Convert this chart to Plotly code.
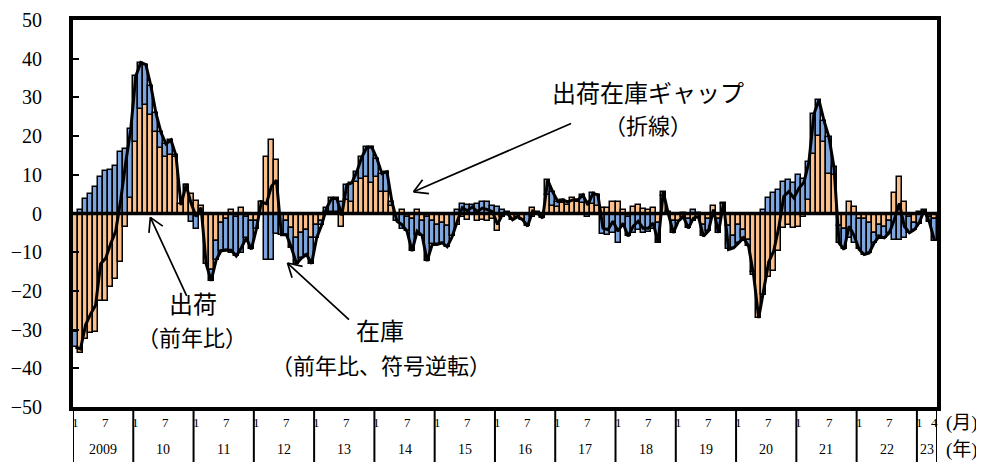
import math
import plotly.graph_objects as go

# ---- data (monthly, Jan 2009 - Apr 2023), % year-on-year ----
months_per_year = [12] * 14 + [4]
year_labels = ["2009", "10", "11", "12", "13", "14", "15", "16", "17", "18", "19", "20", "21", "22", "23"]

# 出荷 (shipments, yoy %)
shipments = [
    -30.5, -36, -32.5, -31, -30.5, -22.5, -22.5, -19, -17, -12.5, -3.5, 4,      # 2009
    18.5, 27, 28, 25.5, 21, 17, 14.5, 15, 14.5, 2.5, 7.4, 5,                 # 2010
    3.2, 2, -13, -14.5, -7, -2.5, -1.5, 0.8, -1, 1.3, -1, -2,                 # 2011
    -2, 3, 14.5, 19, 13.8, -0.3, -2, -3.8, -6.3, -5, -4.2, -6.3,               # 2012
    -3, -2, 0.3, 0.5, 0.5, -3.6, 3.5, 3, 8.2, 9, 9.5, 7.8,                    # 2013
    9.5, 5.6, 5.6, 2, -0.5, 1, -0.8, -1.5, 1, -2, -1, -2,                     # 2014
    -2.9, -2.5, -3.3, -0.5, -3, -1, -1.6, -0.5, -2, -1.6, -2, -1.5,           # 2015
    -4.6, -1, -0.5, -1.6, -0.8, -1.6, -0.5, 1.4, 0.5, -1.2, 4.8, 2,           # 2016
    1.8, 2.6, 2.2, 3.9, 3.1, 2.6, 3, 2.5, 2, 1.4, 1.4, 3,                     # 2017
    3, 1, -1, 1.8, 2.2, 1.2, 1, 1.5, -2.5, 4.5, 0.5, -2,                      # 2018
    -2, -1, -1.5, -2, -1, -3, -1.5, 2, -1.5, 2.5, -3.3, -5.9,                 # 2019
    -2.9, -4.2, -6.8, -15, -27, -21, -16.5, -14.9, -9.7, -3.8, -2.9, -3.8,    # 2020
    -3.4, -1, 3.5, 15.5, 19.9, 18.5, 10.3, 9.9, -3.3, -4, 3.1, 1.8,           # 2021
    -1.5, -1.5, -2.5, -5, -3, -3.5, -2, 5.2, 9.5, 3.1, -1, -2.5,              # 2022
    0.4, 0.5, -1, -1.5,                                                       # 2023
]

# 在庫 (inventory, yoy %) -- plotted with reversed sign
inventory = [
    4, -1, -3.7, -5, -6.8, -9.5, -10.9, -11.2, -12.4, -16, -16.7, -17.8,      # 2009
    -17, -12, -10.5, -7.5, -5, -4, -3.5, -4, -0.5, 0.3, 0, 2.3,               # 2010
    4, 0.5, 0, 2.9, 5, 7.1, 8, 10.3, 10, 10.2, 5.3, 7.3,                      # 2011
    2, 0, 12, 12, 5.2, 5.2, 3.5, 5.1, 6.7, 6.5, 6.4, 6.7,                     # 2012
    3.3, 1, -1.2, -3.4, -3.4, -3.1, -3.9, -4.9, -2.6, -5.6, -7.6, -9.3,       # 2013
    -4.7, -4.7, -5.2, -1, 1.5, 3.9, 3.8, 8.2, 5.6, 3.7, 11.3, 6,              # 2014
    5.1, 5.1, 5.3, 5.4, -1, -2.5, -2.3, -2.2, -2.5, -3, -3, -2,               # 2015
    -1.8, -0.8, -0.5, 0, 0, 0, 2.8, 0.8, 0.5, 0, -3.8, -3.6,                  # 2016
    -1.3, -0.9, -0.8, 0.4, -0.4, -2.2, 0.8, -2.7, -2.8, 5.2, 5.6, 5,          # 2017
    7.6, 3.5, 4.9, 5.1, 4.2, 5, 4.8, 4, 5, -1.1, 0.5, 3,                      # 2018
    0, -0.2, 2.3, -0.8, -0.2, 2.9, 3, 1, 3.5, -0.3, 6, 3,                     # 2019
    4.7, 2.1, 1.7, 1, 0, -1, -4, -5.2, -6.1, -8.2, -8.6, -7.8,                # 2020
    -9.9, -9, -9.8, -10.2, -9.4, -5.5, -9.4, -2, 4.3, 5.3, 6.4, 7.5,          # 2021
    7.8, 9.1, 7.7, 2.6, 2.9, 2.8, 3, 6.8, 6.9, 6.4, 4, 1.7,                   # 2022
    2.7, -0.5, 1.3, 5.5,                                                      # 2023
]

y_ticks = [-50, -40, -30, -20, -10, 0, 10, 20, 30, 40, 50]

# ---- derived ----
n = len(shipments)
x = list(range(n))
inventory_rev = [-v for v in inventory]
gap = [s - v for s, v in zip(shipments, inventory)]

ORANGE = "#F9BF8D"
BLUE = "#7EA5DD"
SERIF = "Liberation Serif, Noto Sans CJK JP, serif"

# page body has an 8px margin: figure is 976x456, plot area at 73..937 x ~20..407 on screen
W, H = 976, 456
ML, MT, MR, MB = 65, 12, 47, 57
PW = W - ML - MR
PH = H - MT - MB


def px(p):   # screen pixel x -> paper x
    return (p - 8 - ML) / PW


def py(p):   # screen pixel y -> paper y
    return (H - MB + 8 - p) / PH


fig = go.Figure()
fig.add_trace(go.Bar(x=x, y=shipments, name="出荷",
                     marker=dict(color=ORANGE, line=dict(color="black", width=1.5))))
fig.add_trace(go.Bar(x=x, y=inventory_rev, name="在庫",
                     marker=dict(color=BLUE, line=dict(color="black", width=1.5))))
fig.add_trace(go.Scatter(x=x, y=gap, mode="lines", name="ギャップ",
                         line=dict(color="black", width=3)))

shapes = []
shapes.append(dict(type="line", xref="paper", yref="y", x0=0, x1=1, y0=0, y1=0,
                   line=dict(color="black", width=3.5), layer="above"))

annotations = []
sep_y = py(462)
start = 0
for yl, m in zip(year_labels, months_per_year):
    shapes.append(dict(type="line", xref="x", yref="paper", x0=start - 0.5, x1=start - 0.5,
                       y0=0, y1=sep_y, line=dict(color="black", width=2)))
    month_marks = [1, 7] if m == 12 else [1, 4]
    for mm in month_marks:
        annotations.append(dict(x=start + mm - 1, y=py(423), xref="x", yref="paper", text=str(mm),
                                showarrow=False, font=dict(family=SERIF, size=13, color="black"),
                                xanchor="center", yanchor="middle"))
    annotations.append(dict(x=start + (m - 1) / 2, y=py(449), xref="x", yref="paper", text=yl,
                            showarrow=False, font=dict(family=SERIF, size=14, color="black"),
                            xanchor="center", yanchor="middle"))
    start += m
shapes.append(dict(type="line", xref="x", yref="paper", x0=start - 0.5, x1=start - 0.5,
                   y0=0, y1=sep_y, line=dict(color="black", width=2)))

annotations.append(dict(x=px(962), y=py(423), xref="paper", yref="paper", text="(月)", showarrow=False,
                        font=dict(family=SERIF, size=19, color="black"), xanchor="center", yanchor="middle"))
annotations.append(dict(x=px(962), y=py(450), xref="paper", yref="paper", text="(年)", showarrow=False,
                        font=dict(family=SERIF, size=19, color="black"), xanchor="center", yanchor="middle"))

big = dict(family=SERIF, size=24, color="black")
small = dict(family=SERIF, size=22, color="black")
for txt, cx, cy, f in [("出荷在庫ギャップ", 648, 94, big), ("（折線）", 648, 126, small),
                       ("出荷", 193, 305, big), ("（前年比）", 192, 338, small),
                       ("在庫", 380, 332, big), ("（前年比、符号逆転）", 381, 366, small)]:
    annotations.append(dict(x=px(cx), y=py(cy), xref="paper", yref="paper", text=txt, showarrow=False,
                            font=f, xanchor="center", yanchor="middle"))

# arrows: shaft from label toward (x, y) data point, open V head drawn as two thin strokes
arrows = [(67.3, 5.6, 159, -69), (14.9, -1.0, 37, 80), (42.2, -12.8, 63, 58)]
line_style = dict(showarrow=True, arrowhead=0, arrowwidth=1.7, arrowcolor="black", text="",
                  xref="x", yref="y", axref="pixel", ayref="pixel", standoff=0, startstandoff=0)
for ax_, ay_, dx, dy in arrows:
    annotations.append(dict(line_style, x=ax_, y=ay_, ax=dx, ay=dy))
    L = math.hypot(dx, dy)
    ux, uy = dx / L, dy / L
    for ang in (math.radians(30), -math.radians(30)):
        rx = ux * math.cos(ang) - uy * math.sin(ang)
        ry = ux * math.sin(ang) + uy * math.cos(ang)
        annotations.append(dict(line_style, x=ax_, y=ay_, ax=rx * 17, ay=ry * 17))

fig.update_layout(
    width=W, height=H,
    margin=dict(l=ML, r=MR, t=MT, b=MB, autoexpand=False),
    paper_bgcolor="white", plot_bgcolor="white",
    barmode="relative", bargap=0,
    showlegend=False,
    shapes=shapes, annotations=annotations,
    font=dict(family=SERIF, color="black"),
)
fig.update_xaxes(range=[-0.5, n - 0.5], showticklabels=False, ticks="", showgrid=False, zeroline=False,
                 showline=True, linecolor="black", linewidth=4, mirror=True, automargin=False)
fig.update_yaxes(range=[-50, 50], tickvals=y_ticks, ticks="inside", ticklen=6, tickwidth=1.5,
                 tickcolor="black", showgrid=False, zeroline=False, showline=True, linecolor="black",
                 linewidth=4, mirror=True, tickfont=dict(family=SERIF, size=20, color="black"),
                 ticklabelstandoff=23, automargin=False, ticklabeloverflow="allow")

fig.write_html("out.html")
